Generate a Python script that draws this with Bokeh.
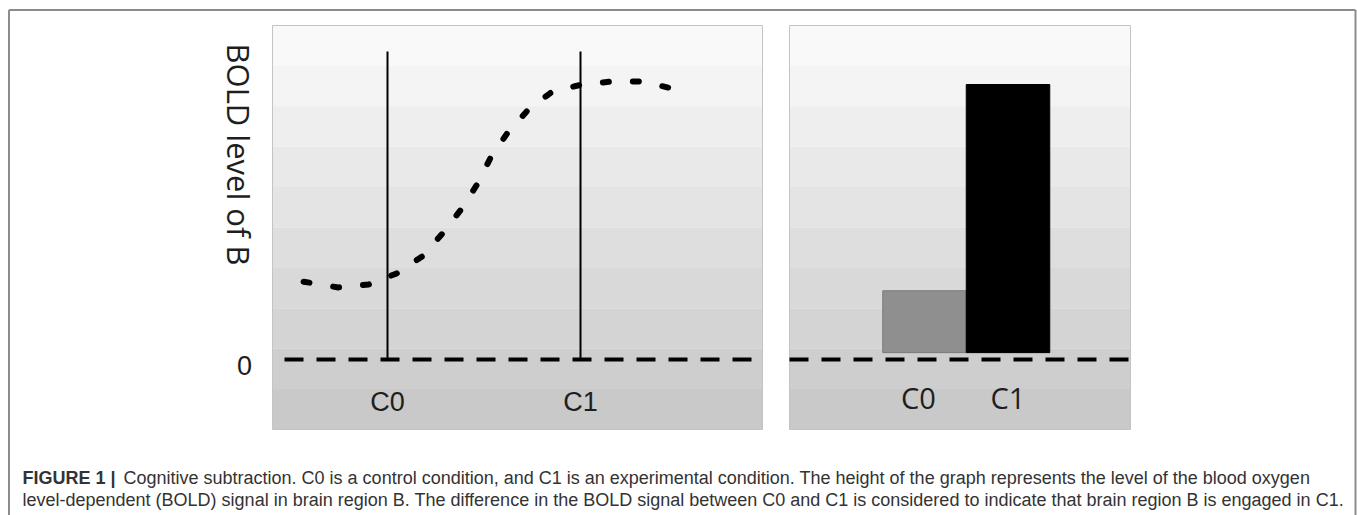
import math
from bokeh.plotting import figure
from bokeh.models import Range1d, Label
from bokeh.core.properties import value
from bokeh.embed import file_html
from bokeh.resources import INLINE

# ---------------- data ----------------
conditions = ["C0", "C1"]
condition_time = [2.0, 6.0]
bar_values = [0.25, 1.0]
bar_colors = ["#8f8f8f", "#000000"]
curve_time = [0.26, 0.98, 1.61, 2.19, 2.72, 3.14, 3.51, 3.87, 4.14, 4.49,
              4.92, 5.42, 6.04, 6.66, 7.28, 8.03]
curve_bold = [0.283, 0.262, 0.273, 0.313, 0.375, 0.458, 0.542, 0.640, 0.735, 0.825,
              0.909, 0.975, 1.000, 1.011, 1.011, 0.980]
marker_top = 1.12
zero_tick = "0"
y_label = "BOLD level of B"
caption_bold = "FIGURE 1 |"
caption_line1 = ("Cognitive subtraction. C0 is a control condition, and C1 is an experimental "
                 "condition. The height of the graph represents the level of the blood oxygen")
caption_line2 = ("level-dependent (BOLD) signal in brain region B. The difference in the BOLD "
                 "signal between C0 and C1 is considered to indicate that brain region B is engaged in C1.")

# ---------------- layout (pixels inside the figure, y downwards) ----------------
W, H = 1357, 515
LP = (272, 25, 762, 429)      # left panel  x0, y0, x1, y1
RP = (789, 25, 1130, 429)     # right panel
ZERO_Y = 359
PX_PER_UNIT = 275.0
T0_X, PX_PER_T = 290.5, 48.25
BAR0_X, BAR_W = 924.0, 83.5
BAR_BASE = 0.025

p = figure(width=W, height=H, x_range=Range1d(0, W), y_range=Range1d(H, 0),
           x_axis_location=None, y_axis_location=None, toolbar_location=None,
           output_backend="svg", min_border=0, outline_line_color=None,
           background_fill_color="white", border_fill_color="white")
p.grid.visible = False
p.extra_x_ranges = {
    "time": Range1d(-T0_X / PX_PER_T, (W - T0_X) / PX_PER_T),
    "cond": Range1d(-BAR0_X / BAR_W, (W - BAR0_X) / BAR_W),
}
p.extra_y_ranges = {"bold": Range1d((ZERO_Y - H) / PX_PER_UNIT, ZERO_Y / PX_PER_UNIT)}

# outer frame (bottom edge is below the visible area)
p.segment(x0=[8.5, 8.5, 1355], y0=[H + 5, 9.5, 9.5], x1=[8.5, 1355, 1355], y1=[9.5, 9.5, H + 5],
          line_color="#8c8c8c", line_width=2)

# panel backgrounds: stepped grey gradient
NB = 10
for (x0, y0, x1, y1) in (LP, RP):
    h = (y1 - y0) / NB
    tops, bots, cols = [], [], []
    for i in range(NB):
        g = int(round(249 - (249 - 201) * i / (NB - 1)))
        tops.append(y0 + i * h)
        bots.append(y0 + (i + 1) * h)
        cols.append("#%02x%02x%02x" % (g, g, g))
    p.quad(left=x0, right=x1, top=tops, bottom=bots, fill_color=cols, line_color=None)
    p.quad(left=x0, right=x1, top=y0, bottom=y1, fill_color=None,
           line_color="#c4c4c4", line_width=1)

# ---------------- left panel ----------------
p.segment(x0=LP[0] + 12, y0=0, x1=LP[2], y1=0, y_range_name="bold",
          line_color="black", line_width=4, line_dash="19 13")
p.segment(x0=condition_time, y0=[0, 0], x1=condition_time, y1=[marker_top] * 2,
          x_range_name="time", y_range_name="bold", line_color="black", line_width=2)
p.line(curve_time, curve_bold, x_range_name="time", y_range_name="bold",
       line_color="black", line_width=6, line_dash="6 24", line_cap="round")
p.text(x=condition_time, y=[401, 401], text=conditions, x_range_name="time",
       text_font=value("Liberation Sans"), text_font_size="27px", text_color="#1e1e1e",
       text_align="center", text_baseline="middle")
p.add_layout(Label(x=244, y=365, text=zero_tick, text_font="Liberation Sans",
                   text_font_size="27px", text_color="#1e1e1e",
                   text_align="center", text_baseline="middle"))
p.add_layout(Label(x=238, y=154, text=y_label, text_font="Open Sans",
                   text_font_size="31px", text_color="#1e1e1e", angle=-math.pi / 2,
                   text_align="center", text_baseline="middle"))

# ---------------- right panel ----------------
p.segment(x0=RP[0], y0=0, x1=RP[2] + 1, y1=0, y_range_name="bold",
          line_color="black", line_width=4, line_dash="19 13")
p.vbar(x=[0, 1], top=bar_values, bottom=BAR_BASE, width=1.0, x_range_name="cond",
       y_range_name="bold", fill_color=bar_colors, line_color=["#7a7a7a", "#000000"],
       line_width=1)
p.text(x=[0, 1], y=[397, 397], text=conditions, x_range_name="cond",
       text_font=value("Open Sans"), text_font_size="29px", text_color="#1e1e1e",
       text_align="center", text_baseline="middle", x_offset=[-6, 0])

# ---------------- caption ----------------
p.add_layout(Label(x=22, y=477, text=caption_bold, text_font="Liberation Sans",
                   text_font_style="bold", text_font_size="18px", text_color="#333333",
                   text_baseline="alphabetic"))
p.add_layout(Label(x=123, y=477, text=caption_line1, text_font="Liberation Sans",
                   text_font_size="18px", text_color="#333333", text_baseline="alphabetic"))
p.add_layout(Label(x=22, y=499, text=caption_line2, text_font="Liberation Sans",
                   text_font_size="18px", text_color="#333333", text_baseline="alphabetic"))

open("out.html", "w").write(file_html(p, INLINE))
